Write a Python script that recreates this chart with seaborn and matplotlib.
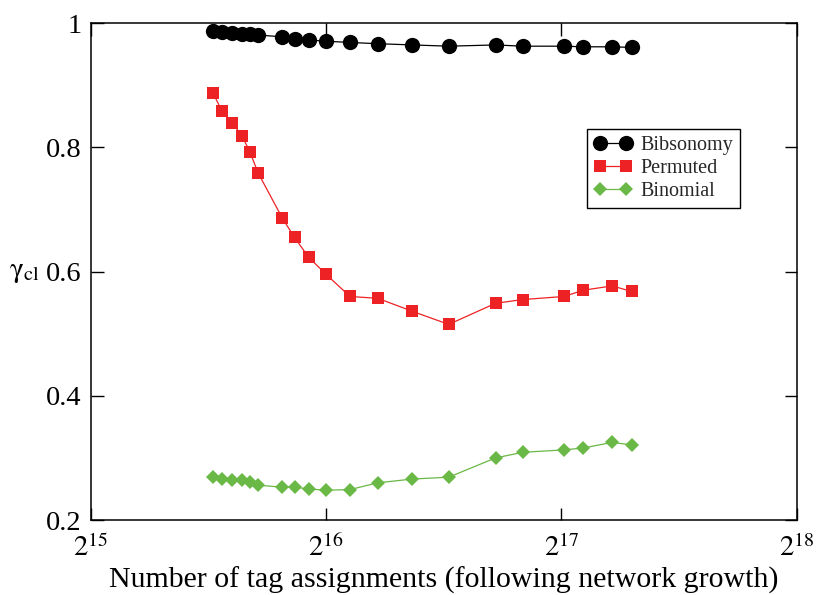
import numpy as np
import pandas as pd
import seaborn as sns
import matplotlib
matplotlib.use('Agg')
import matplotlib.pyplot as plt
from matplotlib.ticker import NullLocator, FixedLocator, FixedFormatter

# number of tag assignments
tag_assignments = [46950, 48200, 49700, 51170, 52350, 53640, 57610, 59720, 62260, 65490,
                   70290, 76330, 84520, 94040, 107950, 116910, 132170, 139710, 152240, 161150]

# clustering coefficient for each network
bibsonomy = [0.987, 0.986, 0.985, 0.983, 0.982, 0.981, 0.978, 0.975, 0.973, 0.971,
             0.969, 0.967, 0.965, 0.963, 0.965, 0.963, 0.963, 0.962, 0.962, 0.961]
permuted = [0.888, 0.859, 0.840, 0.818, 0.793, 0.759, 0.686, 0.655, 0.623, 0.596,
            0.560, 0.557, 0.536, 0.515, 0.549, 0.555, 0.560, 0.570, 0.577, 0.568]
binomial = [0.270, 0.266, 0.265, 0.264, 0.261, 0.256, 0.253, 0.253, 0.250, 0.248,
            0.249, 0.260, 0.266, 0.269, 0.300, 0.309, 0.313, 0.316, 0.325, 0.321]

series_names = ['Bibsonomy', 'Permuted', 'Binomial']
x_ticks = [2**15, 2**16, 2**17, 2**18]
x_tick_labels = [r'$2^{15}$', r'$2^{16}$', r'$2^{17}$', r'$2^{18}$']
y_ticks = [0.2, 0.4, 0.6, 0.8, 1.0]
y_tick_labels = ['0.2', '0.4', '0.6', '0.8', '1']

df = pd.DataFrame({'n': tag_assignments, 'Bibsonomy': bibsonomy,
                   'Permuted': permuted, 'Binomial': binomial})

sns.set_theme(style='ticks')
plt.rcParams['font.family'] = ['Liberation Serif', 'DejaVu Serif']
plt.rcParams['mathtext.fontset'] = 'stix'

fig, ax = plt.subplots(figsize=(8.18, 5.95), dpi=100)
fig.subplots_adjust(left=0.111, right=0.974, top=0.961, bottom=0.126)

styles = {
    'Bibsonomy': dict(color='black', marker='o', markersize=11),
    'Permuted': dict(color='#ed2224', marker='s', markersize=9),
    'Binomial': dict(color='#6ab845', marker='D', markersize=7.2),
}
for name in series_names:
    st = styles[name]
    sns.lineplot(data=df, x='n', y=name, ax=ax, label=name, color=st['color'],
                 marker=st['marker'], markersize=st['markersize'],
                 markeredgewidth=0, linewidth=0.9, sort=True)

ax.set_xscale('log', base=2)
ax.set_xlim(2**15, 2**18)
ax.set_ylim(0.2, 1.0)
ax.xaxis.set_major_locator(FixedLocator(x_ticks))
ax.xaxis.set_major_formatter(FixedFormatter(x_tick_labels))
ax.xaxis.set_minor_locator(NullLocator())
ax.set_yticks(y_ticks)
ax.set_yticklabels(y_tick_labels)
ax.yaxis.set_minor_locator(NullLocator())

ax.tick_params(axis='both', which='major', direction='in', length=9, width=1,
               top=True, right=True, labelsize=20.5, color='black', labelcolor='black')
ax.tick_params(axis='x', pad=10)
ax.tick_params(axis='y', pad=6.5)
for sp in ax.spines.values():
    sp.set_visible(True)
    sp.set_color('black')
    sp.set_linewidth(1.1)

ax.set_xlabel('Number of tag assignments (following network growth)', fontsize=21.5,
              color='black', labelpad=4)
ax.set_ylabel(r'$\mathrm{\gamma}_{\mathrm{cl}}$', fontsize=21, rotation=0, color='black',
              ha='right', va='center')
ax.yaxis.set_label_coords(-0.072, 0.5)

leg = ax.legend(loc='upper left', bbox_to_anchor=(0.703, 0.787), borderaxespad=0,
                fontsize=14.5, numpoints=2, handlelength=1.9, handletextpad=0.4,
                borderpad=0.35, labelspacing=0.2, fancybox=False, framealpha=1,
                edgecolor='black')
leg.get_frame().set_linewidth(1.0)

fig.savefig('out.png', dpi=100, facecolor='white')
